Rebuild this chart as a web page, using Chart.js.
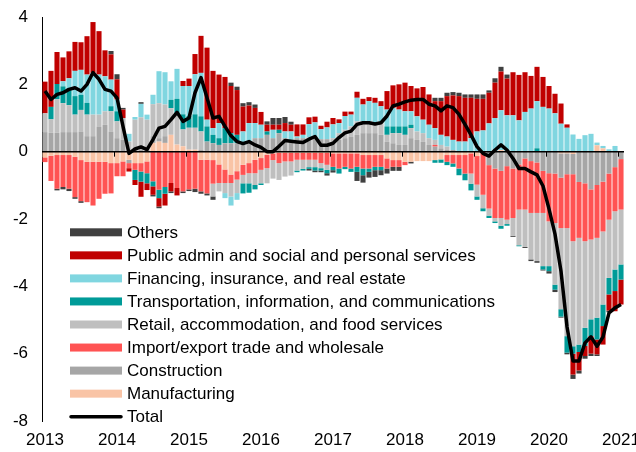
<!DOCTYPE html>
<html lang="en">
<head>
    <meta charset="UTF-8">
    <title>Contributions by sector</title>
    <script src="https://cdn.jsdelivr.net/npm/chart.js"></script>
    <style>
        html, body { margin: 0; padding: 0; background: #fff; }
        #wrap { width: 636px; height: 452px; }
    </style>
</head>
<body>
<div id="wrap"><canvas id="chart" width="636" height="452"></canvas></div>
<script>
    // Tick labels (one per January)
    const years = ['2013', '2014', '2015', '2016', '2017', '2018', '2019', '2020', '2021'];

    // Monthly categories, Jan 2013 .. Jan 2021
    const months = [];
    years.forEach((y, i) => {
        const last = i === years.length - 1 ? 1 : 12;
        for (let m = 1; m <= last; m++) months.push(y + '-' + String(m).padStart(2, '0'));
    });

    // Series values (percentage points)
    const manufacturing = [
        -0.17, -0.12, -0.1, -0.1, -0.1, -0.15, -0.25, -0.3, -0.3, -0.3, -0.3, -0.34,
        -0.34, -0.29, -0.24, -0.34, -0.34, -0.29, 0.26, 0.3, 0.26, 0.5, 0.21, 0.16,
        0.06, 0.06, -0.24, -0.24, -0.25, -0.38, -0.53, -0.68, -0.58, -0.39, -0.34, -0.24,
        -0.19, -0.09, -0.05, -0.04, -0.04, -0.04, -0.04, -0.04, -0.04, -0.04, -0.04, -0.04,
        -0.05, -0.05, -0.05, -0.05, -0.05, -0.1, -0.1, -0.1, -0.1, -0.2, -0.25, -0.25,
        -0.3, -0.3, -0.28, -0.28, -0.28, -0.25, -0.23, -0.1, -0.1, -0.1, -0.1, -0.05,
        -0.13, 0, 0, 0, 0.05, 0, 0, 0, 0, 0, 0, 0,
        0, 0, -0.05, -0.05, -0.07, 0, 0, 0, 0.19, 0.1, 0, 0,
        0
    ];
    const construction = [
        0.58, 0.56, 0.56, 0.58, 0.58, 0.58, 0.6, 0.46, 0.46, 0.75, 0.8, 0.6,
        0.4, 0.36, -0.1, 0.05, 0.07, 0.05, 0.2, 0.1, 0.2, 0, 0, 0,
        0, 0, 0.05, 0.3, 0.25, 0.2, 0.25, 0.25, 0.25, 0.2, 0.26, 0.4,
        0.4, 0.5, 0.4, 0.55, 0.4, 0.35, 0.4, 0.4, 0.42, 0.42, 0.37, 0.37,
        0.3, 0.35, 0.4, 0.45, 0.5, 0.55, 0.55, 0.55, 0.5, 0.3, 0.25, 0.2,
        0.2, 0.4, 0.35, 0.3, 0.2, 0.15, 0.1, 0.05, 0.05, 0, 0, 0,
        0, 0, -0.4, -0.5, -0.57, -0.43, -0.5, -0.38, -0.2, -0.28, -0.32, -0.57,
        -0.64, -0.65, -0.72, -0.62, -0.6, -0.9, -0.94, -1.12, -0.99, -0.89, -0.65, -0.46,
        -0.22
    ];
    const importExport = [
        -0.14, -0.75, -1.0, -0.95, -1.0, -1.2, -1.22, -1.2, -1.3, -1.1, -0.95, -0.9,
        -0.39, -0.44, -0.15, -0.2, -0.25, -0.35, -0.88, -1.13, -1.05, -0.93, -1.08, -1.18,
        -1.12, -1.1, -0.94, -1.0, -0.7, -0.55, -0.4, -0.25, -0.25, -0.3, -0.3, -0.4,
        -0.35, -0.4, -0.2, -0.3, -0.25, -0.25, -0.2, -0.2, -0.2, -0.2, -0.3, -0.35,
        -0.4, -0.45, -0.4, -0.45, -0.4, -0.4, -0.4, -0.35, -0.35, -0.3, -0.2, -0.2,
        -0.1, 0, 0, 0, 0, 0.05, 0, -0.2, -0.25, -0.4, -0.55, -0.6,
        -0.85, -1.28, -1.29, -1.47, -1.4, -1.59, -1.47, -1.34, -1.52, -1.54, -1.5, -1.25,
        -1.43, -1.47, -1.5, -1.6, -1.99, -1.66, -1.72, -1.49, -1.57, -1.48, -1.37, -1.31,
        -1.5
    ];
    const retail = [
        0.56, 0.4, 1.0, 0.86, 0.8, 0.52, 0.64, 0.64, 0.64, 0.35, 0.4, 0.6,
        0.5, 0.64, 0.3, 0.9, 0.95, 0.9, 0.95, 1.04, 0.94, 0.79, 0.89, 0.5,
        0.65, 0.65, 0.55, 0, -0.38, -0.25, -0.3, -0.4, -0.4, -0.25, -0.3, -0.35,
        -0.4, -0.45, -0.55, -0.5, -0.45, -0.42, -0.32, -0.27, -0.22, -0.22, -0.15, -0.15,
        0.1, 0.2, 0.25, 0.3, 0.4, 0.35, 0.35, 0.3, 0.35, 0.2, 0.3, 0.35,
        0.3, 0.3, 0.25, 0.25, 0.2, 0.15, 0.1, 0.1, 0, 0, 0, -0.3,
        -0.35, -0.4, -0.21, -0.1, -0.23, -0.13, -0.53, -1.06, -1.11, -1.38, -1.43, -1.58,
        -1.33, -1.83, -2.41, -3.21, -3.12, -3.17, -2.57, -2.37, -2.37, -2.17, -1.73, -1.73,
        -1.63
    ];
    const transport = [
        0, 0.37, 0.45, 0.5, 0.5, 0.55, 0.45, 0.35, 0, 0, 0, 0.15,
        0.3, 0, 0, -0.3, -0.3, -0.3, -0.15, -0.25, -0.2, 0.25, 0.47, 0.45,
        0.35, 0.4, 0.45, 0.45, 0.25, 0.2, 0.45, 0.3, 0.25, -0.3, -0.28, -0.13,
        -0.05, 0.1, 0, 0.1, 0, 0, -0.05, -0.05, -0.05, -0.1, -0.07, -0.1,
        -0.1, -0.15, -0.07, -0.1, -0.15, -0.2, -0.1, -0.1, -0.1, 0.25, 0.2, 0.2,
        0.25, 0.1, 0, 0, 0, -0.08, -0.1, -0.1, -0.1, -0.2, -0.2, -0.2,
        -0.1, -0.09, -0.07, -0.05, -0.09, -0.05, 0, -0.03, 0, 0, 0.1, -0.1,
        -0.15, -0.15, -0.22, -0.49, -0.22, -0.22, -0.54, -0.5, -0.65, -0.64, -0.49, -0.64,
        -0.45
    ];
    const financing = [
        0, 0, 0, 0.15, 0.3, 0.75, 0.74, 0.84, 1.24, 1.19, 1.04, 0.79,
        0.35, 0, 0.23, 0.08, 0.4, 0.15, 0.28, 0.95, 0.96, 0.55, 0.89, 0.84,
        0.89, 1.19, 1.29, 0.2, 0.2, 0.45, -0.15, -0.27, -0.2, 0.4, 0.59, 0.45,
        0.4, 0, 0.25, 0, 0.2, 0.25, 0.05, 0.1, 0.4, 0.45, 0.3, 0.35,
        0.41, 0.3, 0.41, 0.35, 0.7, 0.5, 0.6, 0.6, 0.5, 0.5, 0.55, 0.5,
        0.45, 0.4, 0.45, 0.4, 0.4, 0.35, 0.3, 0.3, 0.3, 0.3, 0.3, 0.4,
        0.6, 0.63, 0.84, 1.0, 1.18, 1.08, 1.08, 0.93, 1.18, 1.28, 1.4, 1.33,
        1.28, 1.14, 0.83, 0.71, 0.51, 0.38, 0.49, 0.53, 0.08, 0.07, 0.07, 0.17,
        0
    ];
    const publicAdmin = [
        0.94, 1.07, 0.95, 0.71, 0.8, 0.86, 0.82, 1.14, 1.51, 1.29, 0.77, 0.75,
        0.6, 0.25, -0.1, -0.15, -0.45, -0.2, -0.25, -0.25, -0.35, -0.25, -0.22, 0.15,
        0.22, 0.6, 1.1, 2.14, 1.7, 1.44, 1.52, 1.4, 1.33, 0.74, 0.52, 0.45,
        0.38, 0.2, 0.15, 0.15, 0.25, 0.2, 0.36, 0.31, 0.2, 0.17, 0.1, 0.17,
        0.19, 0.11, 0.13, 0.09, 0.18, 0.17, 0.12, 0.15, 0.15, 0.55, 0.67, 0.75,
        0.85, 0.75, 0.83, 0.97, 0.9, 0.8, 1.0, 1.2, 1.32, 1.35, 1.3, 1.2,
        0.97, 0.94, 0.91, 1.05, 1.15, 1.09, 1.28, 1.35, 1.18, 0.97, 1.02, 0.89,
        0.67, 0.58, 0.6, 0.1, -0.62, -0.55, -0.3, -0.52, -0.44, -0.55, -0.48, -0.6,
        -0.74
    ];
    const others = [
        0, 0, -0.05, -0.07, -0.07, -0.05, -0.05, 0, 0, 0, 0, 0.1,
        0.15, 0.05, 0, 0, 0.05, 0, -0.05, -0.05, 0, -0.05, 0, -0.05,
        -0.05, -0.1, -0.07, -0.06, -0.1, 0, 0, 0.1, 0.1, 0.1, 0.1, 0.1,
        0, 0.1, 0.2, 0.2, 0.18, 0.09, 0, 0, -0.05, -0.05, -0.05, -0.07,
        -0.07, 0, 0, 0, -0.27, -0.22, -0.17, -0.2, -0.15, -0.15, -0.12, -0.12,
        0, -0.05, 0, 0, 0, 0.1, 0.1, 0.1, 0.1, 0.1, 0.1, 0.1,
        0.13, 0.13, 0.07, 0.13, 0.14, 0.12, -0.03, 0, -0.03, -0.05, -0.05, -0.03,
        -0.07, -0.07, -0.03, -0.05, -0.13, -0.09, -0.08, -0.07, -0.05, 0, -0.05, 0,
        0
    ];
    const total = [
        1.8, 1.55, 1.7, 1.75, 1.85, 1.9, 1.8, 2.0, 2.35, 2.15, 1.85, 1.8,
        1.6, 0.75, -0.05, 0.08, 0.14, 0.06, 0.36, 0.7, 0.75, 0.95, 1.17, 0.9,
        1.0, 1.75, 2.2, 1.6, 1.0, 1.05, 0.75, 0.47, 0.3, 0.24, 0.3, 0.2,
        0.13, 0.0, 0.0, 0.16, 0.33, 0.31, 0.29, 0.27, 0.37, 0.45, 0.19, 0.19,
        0.25, 0.42, 0.56, 0.61, 0.81, 0.86, 0.86, 0.82, 0.86, 1.06, 1.36, 1.41,
        1.48, 1.53, 1.55, 1.55, 1.41, 1.36, 1.21, 1.36, 1.31, 1.11, 0.81, 0.5,
        0.15, -0.05, -0.13, 0.05, 0.2, 0.05, -0.2, -0.5, -0.5, -0.6, -0.69, -1.02,
        -1.7, -2.45, -3.55, -5.2, -6.22, -6.22, -5.68, -5.5, -5.78, -5.5, -4.79, -4.64,
        -4.54
    ];

    Chart.defaults.font.family = '"Liberation Sans", Arial, sans-serif';
    Chart.defaults.font.size = 17;
    Chart.defaults.color = '#000';

    function barSet(label, data, color) {
        return {
            type: 'bar', label: label, data: data, backgroundColor: color,
            borderWidth: 0, categoryPercentage: 0.85, barPercentage: 1.0, order: 1
        };
    }

    // zero line, year ticks and the in-plot legend
    const overlay = {
        id: 'overlay',
        beforeDatasetDraw(chart, args) {
            if (chart.data.datasets[args.index].type !== 'line') return;
            const { ctx, chartArea } = chart;
            const xs = chart.scales.x, ys = chart.scales.y;
            const y0 = ys.getPixelForValue(0);
            const half = (xs.getPixelForValue(1) - xs.getPixelForValue(0)) / 2;
            ctx.save();
            ctx.strokeStyle = '#000';
            ctx.lineWidth = 1.5;
            ctx.beginPath();
            ctx.moveTo(chartArea.left, y0);
            ctx.lineTo(chartArea.right, y0);
            ctx.stroke();
            ctx.lineWidth = 1;
            ctx.beginPath();
            months.forEach((m, i) => {
                if (i > 0 && m.endsWith('-01')) {
                    const px = Math.round(xs.getPixelForValue(i) - half) + 0.5;
                    ctx.moveTo(px, y0);
                    ctx.lineTo(px, y0 + 5);
                }
            });
            ctx.stroke();
            ctx.restore();
        },
        afterDraw(chart) {
            const { ctx } = chart;
            const sets = chart.data.datasets;
            const items = sets.filter(d => d.type === 'bar').reverse();
            items.push(sets.find(d => d.type === 'line'));
            const left = 70, top = 232.3, step = 23.05;
            ctx.save();
            ctx.font = '17px "Liberation Sans", Arial, sans-serif';
            ctx.textBaseline = 'middle';
            items.forEach((d, i) => {
                const cy = top + i * step;
                if (d.type === 'line') {
                    ctx.strokeStyle = d.borderColor;
                    ctx.lineWidth = 3.5;
                    ctx.lineCap = 'round';
                    ctx.beginPath();
                    ctx.moveTo(left + 1, cy);
                    ctx.lineTo(left + 51, cy);
                    ctx.stroke();
                } else {
                    ctx.fillStyle = d.backgroundColor;
                    ctx.fillRect(left, cy - 4, 52, 8);
                }
                ctx.fillStyle = '#000';
                ctx.fillText(d.label, left + 57, cy + 1);
            });
            ctx.restore();
        }
    };

    new Chart(document.getElementById('chart'), {
        data: {
            labels: months,
            datasets: [
                barSet('Manufacturing', manufacturing, '#F9C4A6'),
                barSet('Construction', construction, '#A6A6A6'),
                barSet('Import/export trade and wholesale', importExport, '#FF5353'),
                barSet('Retail, accommodation, and food services', retail, '#BFBFBF'),
                barSet('Transportation, information, and communications', transport, '#009B98'),
                barSet('Financing, insurance, and real estate', financing, '#80D6E0'),
                barSet('Public admin and social and personal services', publicAdmin, '#C00000'),
                barSet('Others', others, '#404040'),
                {
                    type: 'line', label: 'Total', data: total, stack: 'total',
                    borderColor: '#000', borderWidth: 3.5, pointRadius: 0,
                    tension: 0, borderJoinStyle: 'round', order: 0
                }
            ]
        },
        options: {
            responsive: false,
            animation: false,
            devicePixelRatio: 1,
            layout: { padding: { top: 17, right: 12, bottom: 1, left: 0 } },
            plugins: { legend: { display: false }, tooltip: { enabled: false } },
            scales: {
                x: {
                    stacked: true,
                    grid: { display: false, drawTicks: false },
                    border: { display: false },
                    ticks: {
                        autoSkip: false, maxRotation: 0, minRotation: 0, padding: 9,
                        callback: (v, i) => months[i].endsWith('-01') ? months[i].slice(0, 4) : ''
                    },
                    afterFit: s => { s.height = 30; s.paddingLeft = 0; s.paddingRight = 0; }
                },
                y: {
                    stacked: true,
                    min: -8, max: 4,
                    ticks: { stepSize: 2, padding: 14 },
                    grid: { display: false, drawTicks: false },
                    border: { display: true, color: '#000', width: 1 },
                    afterFit: s => { s.width = 42; s.paddingTop = 0; s.paddingBottom = 0; }
                }
            }
        },
        plugins: [overlay]
    });
</script>
</body>
</html>
